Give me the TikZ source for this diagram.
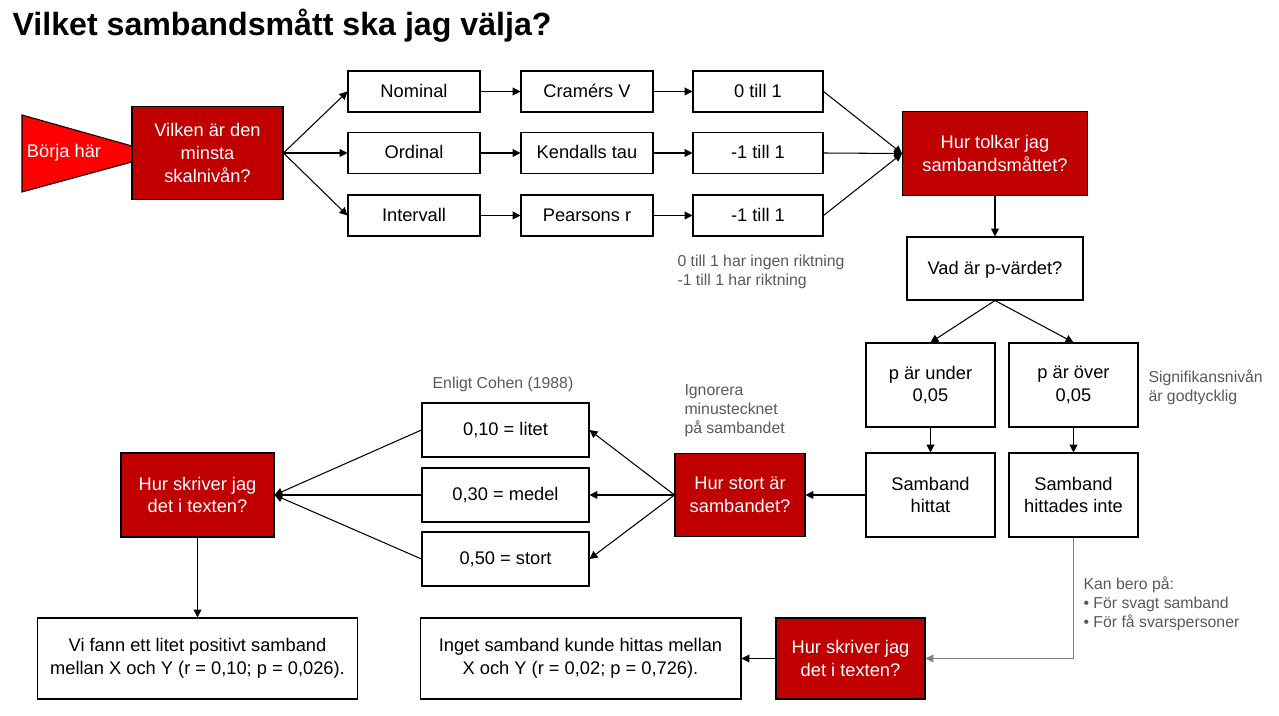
\documentclass[tikz,border=0pt]{standalone}
\usepackage{fontspec}
\setmainfont{Liberation Sans}
\usepackage{tikz}
\usetikzlibrary{arrows.meta,positioning}
\definecolor{darkred}{HTML}{C00000}
\definecolor{startred}{HTML}{FF0000}
\definecolor{notegrey}{HTML}{595959}
\definecolor{linegrey}{HTML}{808080}

\begin{document}
\begin{tikzpicture}[x=0.02cm,y=-0.02cm,>={Triangle[length=4.5pt,width=4.5pt]},
  line width=0.6pt,
  box/.style={draw,fill=white,align=center,inner sep=2pt,font=\fontsize{10.4pt}{13pt}\selectfont},
  row/.style={box,text height=1.6ex,text depth=0.4ex,minimum height=0.82cm},
  qbox/.style={box,fill=darkred,text=white},
  note/.style={align=left,text=notegrey,inner sep=0pt,font=\fontsize{9pt}{10.8pt}\selectfont}]
  \useasboundingbox (0,0) rectangle (1279,716);
  \node[anchor=west,inner sep=0pt,font=\fontsize{18.3pt}{20pt}\selectfont\bfseries] (title) at (12,26) {Vilket sambandsmått ska jag välja?};
  % start
  \draw[fill=startred] (22,115) -- (132,146) -- (132,162) -- (22,192) -- cycle;
  \node[text=white,font=\fontsize{10.4pt}{13pt}\selectfont] (start) at (64,153) {Börja här};
  \node[qbox,minimum width=3.02cm,minimum height=1.86cm] (skala) at (207.5,153) {Vilken är den\\minsta\\skalnivån?};
  % skalniva, matt och intervall
  \node[row,minimum width=2.64cm] (nom) at (414,91.5) {Nominal};
  \node[row,minimum width=2.64cm] (ord) at (414,153) {Ordinal};
  \node[row,minimum width=2.64cm] (int) at (414,215.5) {Intervall};
  \node[row,minimum width=2.64cm] (cramer) at (587,91.5) {Cramérs V};
  \node[row,minimum width=2.64cm] (kendall) at (587,153) {Kendalls tau};
  \node[row,minimum width=2.64cm] (pearson) at (587,215.5) {Pearsons r};
  \node[row,minimum width=2.6cm] (rnom) at (758,91.5) {0 till 1};
  \node[row,minimum width=2.6cm] (rord) at (758,153) {-1 till 1};
  \node[row,minimum width=2.6cm] (rint) at (758,215.5) {-1 till 1};
  \node[note,anchor=west] (riktning) at (677,271.5) {0 till 1 har ingen riktning\\-1 till 1 har riktning};
  \node[qbox,minimum width=3.7cm,minimum height=1.68cm] (tolka) at (995,153.5) {Hur tolkar jag\\sambandsmåttet?};
  % p-vardet
  \node[row,minimum width=3.52cm,minimum height=1.26cm] (pval) at (995,268.5) {Vad är p-värdet?};
  \node[box,minimum width=2.58cm,minimum height=1.68cm] (under) at (930.5,385) {p är under\\0,05};
  \node[box,minimum width=2.58cm,minimum height=1.68cm] (over) at (1073.5,385) {p är över\\0,05};
  \node[note,anchor=west] (signif) at (1148,387.5) {Signifikansnivån\\är godtycklig};
  \node[box,minimum width=2.58cm,minimum height=1.68cm] (hittat) at (930.5,495) {Samband\\hittat};
  \node[box,minimum width=2.58cm,minimum height=1.68cm] (inte) at (1073.5,495) {Samband\\hittades inte};
  % styrka
  \node[qbox,minimum width=2.6cm,minimum height=1.66cm] (storlek) at (740,495) {Hur stort är\\sambandet?};
  \node[note,anchor=west] (ignorera) at (684,411) {Ignorera\\minustecknet\\på sambandet};
  \node[row,minimum width=3.34cm,minimum height=1.08cm] (litet) at (505.5,430) {0,10 = litet};
  \node[row,minimum width=3.34cm,minimum height=1.08cm] (medel) at (505.5,495) {0,30 = medel};
  \node[row,minimum width=3.34cm,minimum height=1.08cm] (stort) at (505.5,559) {0,50 = stort};
  \node[note] (cohen) at (503,384) {Enligt Cohen (1988)};
  \node[qbox,minimum width=3.06cm,minimum height=1.68cm] (skriv) at (197.5,495) {Hur skriver jag\\det i texten?};
  \node[box,minimum width=6.4cm,minimum height=1.62cm] (vifann) at (197.5,658.5) {Vi fann ett litet positivt samband\\mellan X och Y (r = 0,10; p = 0,026).};
  % inget samband
  \node[qbox,minimum width=2.98cm,minimum height=1.62cm] (skrivinte) at (850.5,658.5) {Hur skriver jag\\det i texten?};
  \node[box,minimum width=6.42cm,minimum height=1.62cm] (inget) at (580.5,658.5) {Inget samband kunde hittas mellan\\X och Y (r = 0,02; p = 0,726).};
  \node[note,anchor=west] (bero) at (1083,604) {Kan bero på:\\• För svagt samband\\• För få svarspersoner};
  % connectors
  \draw[->] (skala.east) -- (nom.west);
  \draw[->] (skala.east) -- (ord.west);
  \draw[->] (skala.east) -- (int.west);
  \draw[->] (nom) -- (cramer);
  \draw[->] (ord) -- (kendall);
  \draw[->] (int) -- (pearson);
  \draw[->] (cramer) -- (rnom);
  \draw[->] (kendall) -- (rord);
  \draw[->] (pearson) -- (rint);
  \draw[->] (rnom.east) -- (tolka.west);
  \draw[->] (rord.east) -- (tolka.west);
  \draw[->] (rint.east) -- (tolka.west);
  \draw[->] (tolka) -- (pval);
  \draw[->] (pval.south) -- (under.north);
  \draw[->] (pval.south) -- (over.north);
  \draw[->] (under) -- (hittat);
  \draw[->] (over) -- (inte);
  \draw[->] (hittat) -- (storlek);
  \draw[->] (storlek.west) -- (litet.east);
  \draw[->] (storlek.west) -- (medel.east);
  \draw[->] (storlek.west) -- (stort.east);
  \draw[->] (litet.west) -- (skriv.east);
  \draw[->] (medel.west) -- (skriv.east);
  \draw[->] (stort.west) -- (skriv.east);
  \draw[->] (skriv) -- (vifann);
  \draw[->,linegrey] (inte.south) |- (skrivinte.east);
  \draw[->] (skrivinte) -- (inget);
\end{tikzpicture}
\end{document}
